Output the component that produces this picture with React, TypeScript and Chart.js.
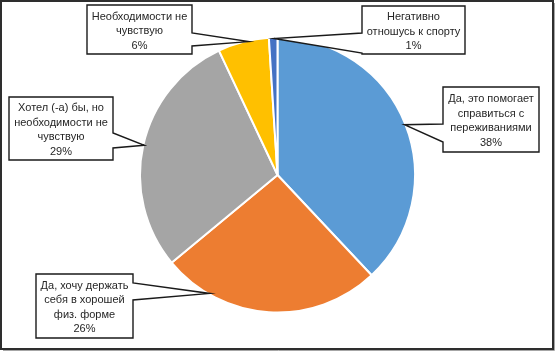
import React, { useEffect, useRef } from "react";
import { Chart, registerables } from "chart.js";

Chart.register(...registerables);

const categories: string[] = [
  "Да, это помогает\nсправиться с\nпереживаниями",
  "Да, хочу держать\nсебя в хорошей\nфиз. форме",
  "Хотел (-а) бы, но\nнеобходимости не\nчувствую",
  "Необходимости не\nчувствую",
  "Негативно\nотношусь к спорту",
];
const values: number[] = [38, 26, 29, 6, 1];
const colors: string[] = ["#5B9BD5", "#ED7D31", "#A5A5A5", "#FFC000", "#4472C4"];

// Callout layout: box rect, side where the wedge leaves the box, wedge base (y1,y2), apex fraction along the arc
const calloutLayout = [
  { x: 443, y: 87, w: 96, h: 65, side: "left", y1: 124, y2: 142, frac: 0.5 },
  { x: 36, y: 274, w: 97, h: 64, side: "right", y1: 283, y2: 300, frac: 0.78 },
  { x: 9, y: 97, w: 104, h: 63, side: "right", y1: 133, y2: 148, frac: 0.5 },
  { x: 87, y: 5, w: 105, h: 49, side: "right", y1: 33, y2: 46, frac: 0.6 },
  { x: 362, y: 6, w: 103, h: 48, side: "left", y1: 33, y2: 53, frac: 0.6 },
];

const FONT = '11px "Liberation Sans", Arial, sans-serif';

const calloutPlugin = {
  id: "callouts",
  afterDraw(chart: any) {
    const ctx = chart.ctx as CanvasRenderingContext2D;
    const W = chart.width;
    const H = chart.height;
    // outer frame
    ctx.save();
    ctx.strokeStyle = "#A6A6A6";
    ctx.lineWidth = 1;
    ctx.beginPath();
    ctx.moveTo(W - 0.5, 3);
    ctx.lineTo(W - 0.5, H - 0.5);
    ctx.lineTo(3, H - 0.5);
    ctx.stroke();
    ctx.strokeStyle = "#2E2E2E";
    ctx.lineWidth = 2;
    ctx.strokeRect(1, 1, W - 3, H - 3);
    ctx.restore();

    const meta = chart.getDatasetMeta(0);
    meta.data.forEach((arc: any, i: number) => {
      const L = calloutLayout[i];
      if (!L) return;
      const a = arc.startAngle + (arc.endAngle - arc.startAngle) * L.frac;
      const r = arc.outerRadius - 1;
      const ax = arc.x + Math.cos(a) * r;
      const ay = arc.y + Math.sin(a) * r;
      const { x, y, w, h } = L;
      ctx.save();
      ctx.beginPath();
      if (L.side === "right") {
        ctx.moveTo(x, y);
        ctx.lineTo(x + w, y);
        ctx.lineTo(x + w, L.y1);
        ctx.lineTo(ax, ay);
        ctx.lineTo(x + w, L.y2);
        ctx.lineTo(x + w, y + h);
        ctx.lineTo(x, y + h);
        ctx.closePath();
      } else {
        ctx.moveTo(x, y);
        ctx.lineTo(x + w, y);
        ctx.lineTo(x + w, y + h);
        ctx.lineTo(x, y + h);
        ctx.lineTo(x, L.y2);
        ctx.lineTo(ax, ay);
        ctx.lineTo(x, L.y1);
        ctx.closePath();
      }
      ctx.fillStyle = "#FFFFFF";
      ctx.fill();
      ctx.strokeStyle = "#1A1A1A";
      ctx.lineWidth = 1.4;
      ctx.lineJoin = "miter";
      ctx.stroke();

      const lines = categories[i].split("\n").concat([values[i] + "%"]);
      ctx.font = FONT;
      ctx.fillStyle = "#262626";
      ctx.textAlign = "center";
      ctx.textBaseline = "middle";
      const lh = 14.5;
      const cy = y + h / 2 + 1.5;
      const top = cy - ((lines.length - 1) * lh) / 2;
      lines.forEach((ln, k) => {
        ctx.fillText(ln, x + w / 2, top + k * lh);
      });
      ctx.restore();
    });
  },
};

export default function App() {
  const ref = useRef<HTMLCanvasElement | null>(null);
  useEffect(() => {
    document.body.style.margin = "0";
    if (!ref.current) return;
    const chart = new Chart(ref.current, {
      type: "pie",
      data: {
        labels: categories.map((c) => c.replace(/\n/g, " ")),
        datasets: [
          {
            data: values,
            backgroundColor: colors,
            borderColor: "#FFFFFF",
            borderWidth: 2,
          },
        ],
      },
      options: {
        animation: false,
        responsive: true,
        maintainAspectRatio: false,
        layout: { padding: { top: 36.5, bottom: 37.5, left: 0, right: 0 } },
        plugins: {
          legend: { display: false },
          tooltip: { enabled: false },
          title: { display: false },
        },
      },
      plugins: [calloutPlugin],
    });
    return () => chart.destroy();
  }, []);
  return (
    <div style={{ position: "relative", width: 555, height: 351, background: "#fff" }}>
      <canvas ref={ref} />
    </div>
  );
}
